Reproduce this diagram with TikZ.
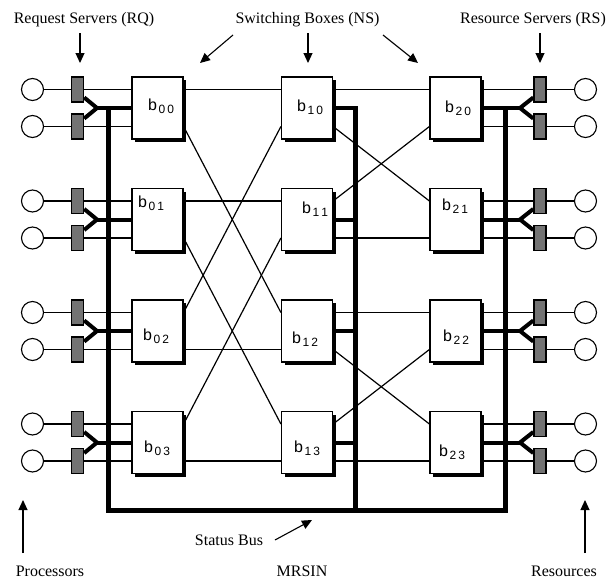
\documentclass[tikz,border=0pt]{standalone}
\usepackage{fontspec}
\setmainfont{Liberation Serif}
\newfontfamily\lsans{Liberation Sans}
\usetikzlibrary{arrows.meta,shadows,calc}
\newcommand\blab[2]{{\lsans\fontsize{16}{16}\selectfont b\kern1.5pt\raisebox{-3.5pt}{\fontsize{12}{12}\selectfont #1\kern2pt#2}}}
\begin{document}
\begin{tikzpicture}[x=1pt,y=-1pt,
  box/.style={draw, fill=white, line width=1.2pt, minimum width=51pt, minimum height=62pt, inner sep=0pt,
    drop shadow={shadow xshift=3pt, shadow yshift=-3pt, opacity=1, fill=black}},
  srv/.style={draw, line width=1.4pt, fill=black!55, minimum width=12pt, minimum height=25pt, inner sep=0pt},
  term/.style={draw, circle, line width=1.1pt, minimum size=22pt, inner sep=0pt, fill=white},
  thinl/.style={line width=1.2pt},
  thickl/.style={line width=4pt, line join=miter},
  bus/.style={line width=5pt, line join=miter},
  arr/.style={line width=1.1pt, -{Triangle[length=10pt,width=9pt]}},
  txt/.style={font=\fontsize{16}{16}\selectfont, inner sep=0pt},
  lab/.style={anchor=base west, inner sep=0pt}]
\useasboundingbox (0,0) rectangle (616,581);
% switching boxes
\foreach \c/\x in {0/157.5,1/307,2/455.5}{
  \foreach \r/\y in {0/108,1/219.5,2/331,3/442.5}{
    \node[box] (b\c\r) at (\x,\y) {};
    \coordinate (b\c\r wt) at ([yshift=18.5pt]b\c\r.west);
    \coordinate (b\c\r wb) at ([yshift=-18.5pt]b\c\r.west);
    \coordinate (b\c\r et) at ([yshift=18.5pt]b\c\r.east);
    \coordinate (b\c\r eb) at ([yshift=-18.5pt]b\c\r.east);
  }}
% labels
\node[lab] (l00) at (148,110) {\blab00};
\node[lab] (l10) at (297,111) {\blab10};
\node[lab] (l20) at (445,112) {\blab20};
\node[lab] (l01) at (138,207) {\blab01};
\node[lab] (l11) at (302,213) {\blab11};
\node[lab] (l21) at (442,210) {\blab21};
\node[lab] (l02) at (143,340) {\blab02};
\node[lab] (l12) at (292,343) {\blab12};
\node[lab] (l22) at (443,341) {\blab22};
\node[lab] (l03) at (144,452) {\blab03};
\node[lab] (l13) at (294,452) {\blab13};
\node[lab] (l23) at (439,456) {\blab23};
% stage 0 -> 1
\draw[thinl] (b00et) -- (b10wt);
\draw[thinl] (b01et) -- (b11wt);
\draw[thinl] (b02eb) -- (b12wb);
\draw[thinl] (b03eb) -- (b13wb);
\draw[thinl] (b00eb) -- (b12wt);
\draw[thinl] (b01eb) -- (b13wt);
\draw[thinl] (b02et) -- (b10wb);
\draw[thinl] (b03et) -- (b11wb);
% stage 1 -> 2
\draw[thinl] (b10et) -- (b20wt);
\draw[thinl] (b11eb) -- (b21wb);
\draw[thinl] (b12et) -- (b22wt);
\draw[thinl] (b13eb) -- (b23wb);
\draw[thinl] (b10eb) -- (b21wt);
\draw[thinl] (b11et) -- (b20wb);
\draw[thinl] (b12eb) -- (b23wt);
\draw[thinl] (b13et) -- (b22wb);
% processors / request servers and resources / resource servers
\foreach \r/\y in {0/108,1/219.5,2/331,3/442.5}{
  \node[term] (pa\r) at (32.5,{\y-18.5}) {};
  \node[term] (pb\r) at (32.5,{\y+18.5}) {};
  \node[srv] (qa\r) at (77.5,{\y-18.5}) {};
  \node[srv] (qb\r) at (77.5,{\y+18.5}) {};
  \coordinate (fl\r) at (97,\y);
  \draw[thinl] (pa\r) -- (qa\r);
  \draw[thinl] (pb\r) -- (qb\r);
  \draw[thinl] (qa\r) -- (b0\r wt);
  \draw[thinl] (qb\r) -- (b0\r wb);
  \draw[thickl] ([yshift=-8pt]qa\r.east) -- (fl\r) -- ([yshift=8pt]qb\r.east);
  \draw[thickl] (fl\r) -- (b0\r.west);
  \node[term] (ra\r) at (585.5,{\y-18.5}) {};
  \node[term] (rb\r) at (585.5,{\y+18.5}) {};
  \node[srv] (sa\r) at (540,{\y-18.5}) {};
  \node[srv] (sb\r) at (540,{\y+18.5}) {};
  \coordinate (fr\r) at (520,\y);
  \draw[thinl] (ra\r) -- (sa\r);
  \draw[thinl] (rb\r) -- (sb\r);
  \draw[thinl] (sa\r) -- (b2\r et);
  \draw[thinl] (sb\r) -- (b2\r eb);
  \draw[thickl] ([yshift=-8pt]sa\r.west) -- (fr\r) -- ([yshift=8pt]sb\r.west);
  \draw[thickl] (fr\r) -- (b2\r.east);
  \coordinate (m\r) at (355,\y);
  \draw[thickl] (b1\r.east) -- (m\r);
}
% status bus
\coordinate (busA) at (108,106);
\coordinate (busB) at (108,510);
\coordinate (busC) at (505,510);
\coordinate (busD) at (505,106);
\coordinate (busE) at (355,106);
\coordinate (busF) at (355,510);
\draw[bus] (busA) -- (busB) -- (busC) -- (busD);
\draw[bus] (busE) -- (busF);
% texts
\node[txt, anchor=base] (trq) at (84,23) {Request Servers (RQ)};
\node[txt, anchor=base] (tns) at (307.5,23) {Switching Boxes (NS)};
\node[txt, anchor=base] (trs) at (533,23) {Resource Servers (RS)};
\node[txt, anchor=base] (tproc) at (50,576) {Processors};
\node[txt, anchor=base] (tmr) at (302,576) {MRSIN};
\node[txt, anchor=base] (tres) at (564,576) {Resources};
\node[txt, anchor=base] (tsb) at (229,545) {Status Bus};
% arrows
\coordinate (a1s) at (80,33);  \coordinate (a1e) at (80,63);
\coordinate (a2s) at (233,35); \coordinate (a2e) at (200,63);
\coordinate (a3s) at (308,33); \coordinate (a3e) at (308,63);
\coordinate (a4s) at (383,35); \coordinate (a4e) at (418,63);
\coordinate (a5s) at (540,33); \coordinate (a5e) at (540,63);
\coordinate (a6s) at (23,553); \coordinate (a6e) at (23,500);
\coordinate (a7s) at (585,553); \coordinate (a7e) at (585,500);
\coordinate (a8s) at (275,540); \coordinate (a8e) at (312,520);
\foreach \i in {1,...,8}{\draw[arr] (a\i s) -- (a\i e);}
\end{tikzpicture}
\end{document}
